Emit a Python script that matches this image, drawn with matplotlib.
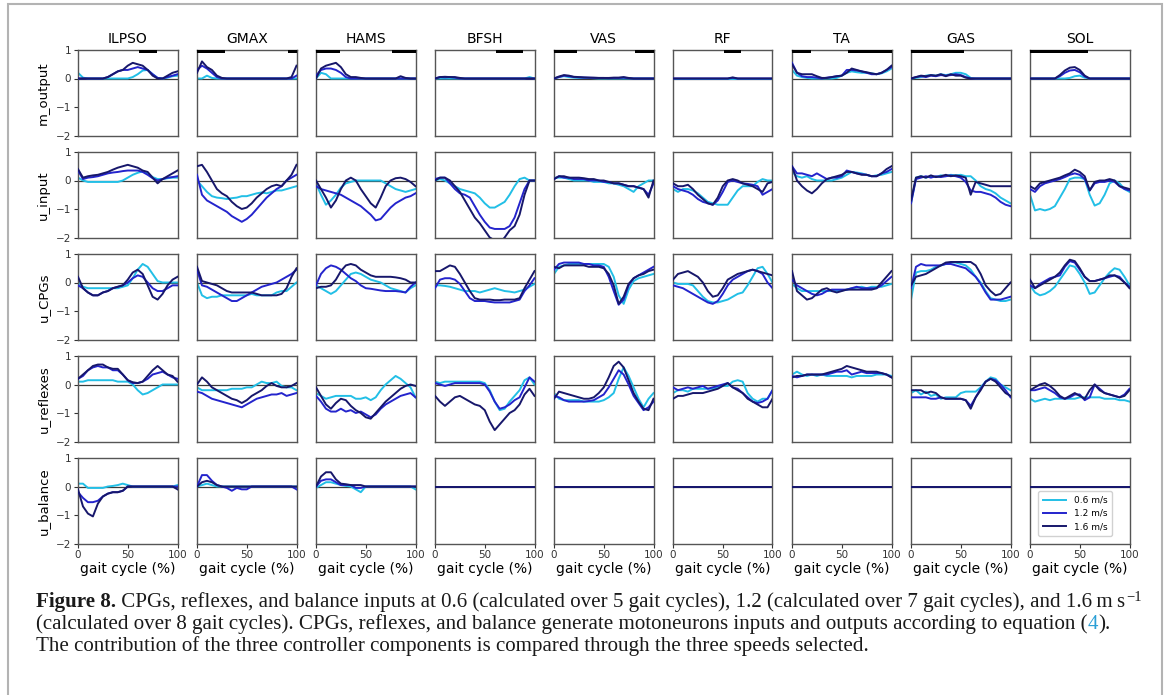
import matplotlib.pyplot as plt
import numpy as np
from matplotlib.patches import Rectangle
from matplotlib.text import Annotation

plt.rcParams['font.family'] = 'DejaVu Sans'

muscles = ['ILPSO', 'GMAX', 'HAMS', 'BFSH', 'VAS', 'RF', 'TA', 'GAS', 'SOL']
row_labels = ['m_output', 'u_input', 'u_CPGs', 'u_reflexes', 'u_balance']
speed_labels = ['0.6 m/s', '1.2 m/s', '1.6 m/s']
colors = ['#22bfe6', '#2424cc', '#17176b']

# black phase bars on top row (% of gait cycle)
phase_bars = [[(61, 79)], [(0, 28), (91, 100)], [(0, 24), (76, 100)], [(61, 88)],
              [(0, 23), (81, 100)], [(51, 68)], [(0, 19), (56, 100)], [(0, 53)], [(0, 58)]]

# every series is sampled evenly over 0..100 % of the gait cycle
m_output_06 = [
    [0.2, 0.03, 0, 0, 0, 0, 0, 0, 0, 0, 0, 0.05, 0.15, 0.28, 0.3, 0.15, 0.02, 0, 0.03, 0.08, 0.1],
    [0, 0, 0.1, 0.02, 0, 0, 0, 0, 0, 0, 0, 0, 0, 0, 0, 0, 0, 0, 0, 0, 0],
    [0, 0.2, 0.15, 0, 0, 0, 0, 0, 0, 0, 0, 0, 0, 0, 0, 0, 0, 0, 0, 0, 0],
    [0, 0, 0, 0, 0, 0, 0, 0, 0, 0, 0, 0, 0, 0, 0, 0, 0, 0, 0, 0.05, 0],
    [0, 0.05, 0.08, 0.05, 0.03, 0.02, 0.02, 0.02, 0.01, 0, 0, 0, 0, 0, 0, 0, 0, 0, 0, 0, 0],
    [0, 0],
    [0.3, 0.1, 0.05, 0.02, 0, 0, 0, 0, 0, 0.02, 0.1, 0.2, 0.25, 0.22, 0.2, 0.2, 0.18, 0.15, 0.18, 0.25, 0.35],
    [0, 0.02, 0.05, 0.1, 0.12, 0.1, 0.15, 0.12, 0.15, 0.2, 0.2, 0.15, 0.02, 0, 0, 0, 0, 0, 0, 0, 0],
    [0, 0, 0, 0, 0, 0, 0, 0, 0.02, 0.08, 0.1, 0.03, 0, 0, 0, 0, 0, 0, 0, 0, 0],
]
m_output_12 = [
    [0, 0, 0, 0, 0, 0, 0.05, 0.15, 0.25, 0.3, 0.3, 0.35, 0.4, 0.35, 0.3, 0.15, 0.02, 0, 0.05, 0.1, 0.15],
    [0.3, 0.45, 0.35, 0.2, 0.05, 0, 0, 0, 0, 0, 0, 0, 0, 0, 0, 0, 0, 0, 0, 0, 0.1],
    [0.1, 0.3, 0.35, 0.35, 0.3, 0.2, 0.05, 0, 0, 0, 0, 0, 0, 0, 0, 0, 0, 0, 0, 0, 0],
    [0, 0.05, 0.04, 0.05, 0.03, 0, 0, 0, 0, 0, 0, 0, 0, 0, 0, 0, 0, 0, 0, 0, 0],
    [0, 0.05, 0.1, 0.08, 0.05, 0.04, 0.03, 0.03, 0.02, 0.02, 0.02, 0.01, 0.02, 0.02, 0.03, 0.01, 0, 0, 0, 0, 0],
    [0, 0, 0, 0, 0, 0, 0, 0, 0, 0, 0, 0, 0.02, 0, 0, 0, 0, 0, 0, 0, 0],
    [0.55, 0.2, 0.08, 0.05, 0.05, 0.03, 0, 0.03, 0.05, 0.08, 0.1, 0.3, 0.3, 0.28, 0.25, 0.2, 0.15, 0.15, 0.2, 0.3, 0.4],
    [0, 0.05, 0.08, 0.05, 0.1, 0.08, 0.12, 0.1, 0.12, 0.15, 0.12, 0.05, 0, 0, 0, 0, 0, 0, 0, 0, 0],
    [0, 0, 0, 0, 0, 0, 0.08, 0.2, 0.28, 0.3, 0.22, 0.07, 0, 0, 0, 0, 0, 0, 0, 0, 0],
]
m_output_16 = [
    [0, 0, 0, 0, 0, 0, 0.05, 0.15, 0.25, 0.3, 0.45, 0.55, 0.5, 0.45, 0.3, 0.1, 0, 0, 0.1, 0.2, 0.25],
    [0.2, 0.6, 0.4, 0.3, 0.1, 0.02, 0, 0, 0, 0, 0, 0, 0, 0, 0, 0, 0, 0, 0, 0.05, 0.45],
    [0, 0.35, 0.45, 0.5, 0.55, 0.4, 0.15, 0.05, 0.05, 0.02, 0, 0, 0, 0, 0, 0, 0, 0.08, 0.02, 0, 0],
    [0, 0.05, 0.06, 0.05, 0.05, 0.02, 0, 0, 0, 0, 0, 0, 0, 0, 0, 0, 0, 0, 0, 0, 0],
    [0, 0.07, 0.12, 0.1, 0.06, 0.05, 0.04, 0.03, 0.03, 0.02, 0.02, 0.02, 0.03, 0.03, 0.05, 0.02, 0, 0, 0, 0, 0],
    [0, 0, 0, 0, 0, 0, 0, 0, 0, 0, 0, 0, 0.04, 0, 0, 0, 0, 0, 0, 0, 0],
    [0.5, 0.2, 0.15, 0.15, 0.15, 0.08, 0.02, 0.02, 0.05, 0.08, 0.1, 0.2, 0.35, 0.3, 0.25, 0.22, 0.18, 0.15, 0.2, 0.3, 0.45],
    [0, 0.05, 0.1, 0.08, 0.12, 0.1, 0.15, 0.08, 0.15, 0.1, 0.1, 0.03, 0, 0, 0, 0, 0, 0, 0, 0, 0],
    [0, 0, 0, 0, 0, 0, 0.12, 0.28, 0.38, 0.4, 0.3, 0.1, 0, 0, 0, 0, 0, 0, 0, 0, 0],
]

u_input_06 = [
    [0.1, 0.0, -0.05, -0.05, -0.05, -0.05, -0.05, -0.05, -0.05, 0.0, 0.1, 0.2, 0.27, 0.32, 0.25, 0.12, 0.05, 0.05, 0.08, 0.1, 0.1],
    [0.0, -0.2, -0.4, -0.55, -0.6, -0.62, -0.65, -0.62, -0.6, -0.55, -0.55, -0.5, -0.45, -0.42, -0.45, -0.4, -0.35, -0.35, -0.3, -0.25, -0.2],
    [-0.1, -0.5, -0.85, -0.7, -0.5, -0.25, -0.1, -0.05, 0.0, 0.0, 0.0, 0.0, 0.0, 0.0, -0.1, -0.2, -0.3, -0.35, -0.4, -0.35, -0.3],
    [0.0, 0.05, 0.0, -0.1, -0.2, -0.3, -0.35, -0.4, -0.45, -0.6, -0.8, -0.95, -0.95, -0.85, -0.75, -0.5, -0.2, 0.05, 0.1, 0.0, 0.0],
    [0.1, 0.1, 0.1, 0.05, 0.0, 0.0, 0.0, 0.0, -0.05, -0.05, -0.05, -0.1, -0.1, -0.15, -0.2, -0.3, -0.4, -0.2, -0.1, 0.0, 0.0],
    [-0.3, -0.4, -0.3, -0.3, -0.35, -0.45, -0.6, -0.75, -0.8, -0.85, -0.85, -0.85, -0.6, -0.35, -0.2, -0.2, -0.2, -0.05, 0.05, 0.0, 0.0],
    [0.3, 0.15, 0.1, 0.15, 0.05, 0.0, 0.0, 0.0, 0.0, 0.05, 0.1, 0.2, 0.3, 0.28, 0.25, 0.2, 0.15, 0.18, 0.2, 0.25, 0.3],
    [-0.8, 0.1, 0.15, 0.1, 0.15, 0.12, 0.18, 0.15, 0.2, 0.18, 0.2, 0.15, 0.15, 0.0, -0.2, -0.3, -0.35, -0.45, -0.6, -0.7, -0.8],
    [-0.5, -1.05, -1.0, -1.05, -1.0, -0.9, -0.6, -0.3, 0.05, 0.1, 0.1, 0.05, -0.5, -0.88, -0.8, -0.5, -0.1, 0.0, -0.1, -0.3, -0.4],
]
u_input_12 = [
    [0.35, 0.05, 0.1, 0.12, 0.15, 0.2, 0.25, 0.28, 0.3, 0.33, 0.35, 0.35, 0.35, 0.3, 0.2, 0.08, 0.0, 0.05, 0.1, 0.12, 0.15],
    [0.2, -0.5, -0.7, -0.8, -0.9, -1.0, -1.1, -1.25, -1.35, -1.45, -1.35, -1.2, -1.0, -0.8, -0.6, -0.45, -0.3, -0.2, 0.0, 0.1, 0.2],
    [-0.2, -0.3, -0.35, -0.4, -0.45, -0.5, -0.6, -0.7, -0.8, -0.9, -1.05, -1.2, -1.4, -1.35, -1.15, -0.95, -0.8, -0.7, -0.6, -0.55, -0.45],
    [0.05, 0.1, 0.1, -0.1, -0.3, -0.45, -0.5, -0.6, -0.9, -1.2, -1.45, -1.65, -1.7, -1.7, -1.7, -1.6, -1.3, -0.8, -0.3, 0.0, 0.0],
    [0.05, 0.15, 0.1, 0.1, 0.05, 0.05, 0.05, 0.0, 0.0, 0.0, -0.05, -0.05, -0.1, -0.1, -0.15, -0.2, -0.2, -0.25, -0.3, -0.5, -0.1],
    [-0.2, -0.3, -0.35, -0.4, -0.5, -0.65, -0.75, -0.8, -0.85, -0.7, -0.4, -0.05, 0.0, -0.05, -0.1, -0.12, -0.15, -0.2, -0.5, -0.4, -0.3],
    [0.5, 0.25, 0.25, 0.2, 0.15, 0.25, 0.15, 0.05, 0.1, 0.1, 0.15, 0.35, 0.3, 0.25, 0.22, 0.2, 0.15, 0.15, 0.25, 0.3, 0.4],
    [-0.8, 0.05, 0.1, 0.15, 0.1, 0.15, 0.12, 0.15, 0.18, 0.15, 0.1, -0.05, -0.35, -0.4, -0.4, -0.45, -0.5, -0.6, -0.75, -0.85, -0.9],
    [-0.3, -0.4, -0.2, -0.1, -0.05, 0.0, 0.05, 0.12, 0.2, 0.25, 0.2, 0.05, -0.35, -0.1, -0.05, -0.05, 0.0, -0.05, -0.2, -0.3, -0.35],
]
u_input_16 = [
    [0.4, 0.1, 0.15, 0.18, 0.2, 0.25, 0.3, 0.38, 0.45, 0.5, 0.55, 0.5, 0.45, 0.35, 0.3, 0.1, -0.1, 0.05, 0.15, 0.25, 0.35],
    [0.5, 0.55, 0.3, 0.0, -0.3, -0.45, -0.55, -0.75, -0.9, -1.0, -0.95, -0.8, -0.6, -0.45, -0.3, -0.2, -0.15, -0.2, 0.0, 0.2, 0.55],
    [0.0, -0.3, -0.6, -0.95, -0.7, -0.3, 0.0, 0.1, 0.0, -0.3, -0.55, -0.8, -0.95, -0.6, -0.2, 0.0, 0.08, 0.1, 0.05, -0.05, -0.2],
    [0.0, 0.1, 0.1, 0.0, -0.2, -0.4, -0.7, -1.0, -1.3, -1.5, -1.75, -2.0, -2.1, -2.2, -2.0, -1.75, -1.6, -1.2, -0.5, 0.0, 0.0],
    [0.05, 0.15, 0.15, 0.1, 0.1, 0.1, 0.08, 0.05, 0.05, 0.0, 0.0, -0.05, -0.1, -0.1, -0.15, -0.2, -0.2, -0.25, -0.3, -0.6, 0.0],
    [-0.1, -0.2, -0.2, -0.15, -0.3, -0.5, -0.65, -0.8, -0.85, -0.6, -0.2, 0.0, 0.05, 0.0, -0.1, -0.15, -0.2, -0.3, -0.4, -0.1, -0.05],
    [0.5, 0.0, -0.2, -0.35, -0.45, -0.3, -0.1, 0.05, 0.1, 0.15, 0.2, 0.3, 0.3, 0.25, 0.2, 0.2, 0.15, 0.15, 0.25, 0.4, 0.5],
    [-0.7, 0.1, 0.15, 0.1, 0.18, 0.12, 0.15, 0.2, 0.15, 0.18, 0.15, 0.1, -0.5, -0.05, -0.1, -0.15, -0.2, -0.2, -0.2, -0.2, -0.2],
    [-0.2, -0.3, -0.1, -0.05, 0.0, 0.05, 0.1, 0.18, 0.25, 0.38, 0.3, 0.15, -0.35, -0.05, 0.0, 0.0, 0.05, 0.0, -0.2, -0.25, -0.3],
]

u_cpgs_06 = [
    [0.0, -0.15, -0.2, -0.2, -0.2, -0.2, -0.2, -0.2, -0.2, -0.15, -0.1, 0.15, 0.45, 0.65, 0.55, 0.3, 0.05, 0.0, 0.0, 0.0, 0.0],
    [0.0, -0.45, -0.55, -0.5, -0.5, -0.45, -0.45, -0.45, -0.45, -0.45, -0.45, -0.4, -0.45, -0.45, -0.45, -0.45, -0.35, -0.3, -0.3, -0.15, 0.0],
    [-0.1, -0.2, -0.3, -0.4, -0.3, -0.1, 0.1, 0.3, 0.35, 0.3, 0.2, 0.1, 0.05, 0.0, -0.1, -0.2, -0.25, -0.3, -0.35, -0.2, -0.1],
    [-0.1, -0.1, -0.12, -0.15, -0.2, -0.25, -0.3, -0.3, -0.3, -0.35, -0.3, -0.25, -0.2, -0.25, -0.3, -0.32, -0.35, -0.3, -0.25, -0.15, -0.05],
    [0.3, 0.55, 0.6, 0.65, 0.65, 0.65, 0.65, 0.65, 0.65, 0.65, 0.65, 0.55, 0.2, -0.45, -0.75, -0.25, 0.05, 0.15, 0.2, 0.25, 0.3],
    [0.0, -0.05, -0.05, -0.05, -0.1, -0.3, -0.5, -0.65, -0.7, -0.7, -0.65, -0.6, -0.5, -0.4, -0.35, -0.1, 0.2, 0.5, 0.55, 0.3, 0.0],
    [-0.05, -0.2, -0.3, -0.3, -0.3, -0.3, -0.3, -0.3, -0.3, -0.3, -0.28, -0.25, -0.2, -0.18, -0.15, -0.2, -0.15, -0.15, -0.15, -0.1, -0.05],
    [-0.6, 0.35, 0.4, 0.4, 0.45, 0.55, 0.6, 0.65, 0.7, 0.7, 0.65, 0.6, 0.45, 0.2, 0.0, -0.3, -0.55, -0.6, -0.65, -0.65, -0.6],
    [-0.1, -0.35, -0.45, -0.4, -0.3, -0.15, 0.1, 0.35, 0.6, 0.55, 0.3, 0.0, -0.4, -0.35, -0.1, 0.15, 0.35, 0.5, 0.45, 0.2, -0.1],
]
u_cpgs_12 = [
    [-0.1, -0.2, -0.35, -0.45, -0.45, -0.35, -0.3, -0.2, -0.15, -0.1, 0.0, 0.15, 0.25, 0.2, 0.0, -0.2, -0.3, -0.3, -0.2, -0.1, -0.1],
    [0.45, -0.1, -0.15, -0.25, -0.35, -0.45, -0.55, -0.65, -0.65, -0.55, -0.45, -0.35, -0.25, -0.15, -0.1, -0.05, 0.0, 0.1, 0.2, 0.3, 0.45],
    [-0.1, 0.3, 0.5, 0.6, 0.55, 0.45, 0.3, 0.15, 0.05, -0.1, -0.2, -0.22, -0.25, -0.28, -0.3, -0.3, -0.3, -0.32, -0.35, -0.15, 0.0],
    [-0.2, 0.1, 0.15, 0.15, 0.1, -0.05, -0.3, -0.55, -0.65, -0.65, -0.65, -0.68, -0.7, -0.7, -0.7, -0.7, -0.65, -0.6, -0.3, -0.1, 0.15],
    [0.45, 0.65, 0.7, 0.7, 0.7, 0.7, 0.65, 0.65, 0.6, 0.6, 0.55, 0.2, -0.3, -0.78, -0.6, -0.1, 0.15, 0.25, 0.35, 0.45, 0.55],
    [-0.1, -0.15, -0.2, -0.3, -0.4, -0.5, -0.6, -0.7, -0.75, -0.65, -0.4, -0.1, 0.1, 0.2, 0.3, 0.4, 0.45, 0.4, 0.3, 0.0, -0.2],
    [0.1, -0.1, -0.2, -0.3, -0.4, -0.45, -0.4, -0.3, -0.25, -0.25, -0.25, -0.25, -0.2, -0.15, -0.2, -0.2, -0.2, -0.2, -0.1, 0.05, 0.2],
    [-0.2, 0.55, 0.65, 0.6, 0.6, 0.6, 0.6, 0.65, 0.65, 0.6, 0.55, 0.5, 0.35, 0.2, -0.05, -0.35, -0.6, -0.6, -0.6, -0.55, -0.5],
    [-0.1, -0.2, -0.05, 0.05, 0.15, 0.2, 0.25, 0.55, 0.75, 0.7, 0.45, 0.2, 0.05, 0.05, 0.1, 0.15, 0.2, 0.25, 0.2, 0.0, -0.15],
]
u_cpgs_16 = [
    [0.2, -0.2, -0.35, -0.45, -0.45, -0.35, -0.3, -0.2, -0.15, -0.1, 0.1, 0.35, 0.45, 0.3, -0.1, -0.5, -0.6, -0.4, -0.1, 0.1, 0.2],
    [0.55, 0.05, 0.0, -0.05, -0.1, -0.2, -0.3, -0.35, -0.35, -0.35, -0.35, -0.35, -0.4, -0.45, -0.45, -0.45, -0.45, -0.4, -0.2, 0.2, 0.5],
    [-0.2, -0.15, -0.15, -0.1, 0.1, 0.4, 0.6, 0.65, 0.6, 0.45, 0.35, 0.25, 0.2, 0.2, 0.2, 0.2, 0.18, 0.15, 0.1, 0.0, 0.0],
    [0.4, 0.4, 0.5, 0.6, 0.55, 0.3, 0.0, -0.3, -0.55, -0.6, -0.6, -0.6, -0.62, -0.62, -0.6, -0.6, -0.6, -0.55, -0.2, 0.1, 0.4],
    [0.55, 0.5, 0.6, 0.6, 0.6, 0.6, 0.6, 0.55, 0.55, 0.55, 0.5, 0.3, -0.1, -0.75, -0.5, -0.05, 0.15, 0.25, 0.3, 0.4, 0.45],
    [0.1, 0.3, 0.35, 0.4, 0.3, 0.2, 0.0, -0.3, -0.5, -0.45, -0.2, 0.1, 0.2, 0.3, 0.35, 0.4, 0.45, 0.4, 0.35, 0.3, 0.25],
    [0.4, -0.3, -0.45, -0.6, -0.55, -0.4, -0.25, -0.2, -0.3, -0.35, -0.3, -0.25, -0.25, -0.25, -0.25, -0.25, -0.25, -0.2, 0.0, 0.2, 0.4],
    [-0.1, 0.2, 0.25, 0.3, 0.4, 0.5, 0.6, 0.7, 0.72, 0.72, 0.72, 0.72, 0.72, 0.6, 0.3, -0.1, -0.3, -0.45, -0.4, -0.2, 0.0],
    [0.1, -0.2, -0.1, 0.0, 0.1, 0.2, 0.35, 0.6, 0.8, 0.75, 0.5, 0.2, 0.05, 0.05, 0.1, 0.15, 0.25, 0.25, 0.15, 0.0, -0.2],
]

u_reflexes_06 = [
    [0.1, 0.1, 0.15, 0.15, 0.15, 0.15, 0.15, 0.15, 0.1, 0.1, 0.1, 0.0, -0.2, -0.35, -0.3, -0.2, -0.1, 0.0, 0.0, 0.0, 0.0],
    [-0.1, -0.2, -0.2, -0.2, -0.2, -0.2, -0.2, -0.15, -0.15, -0.15, -0.1, -0.1, 0.0, 0.1, 0.05, 0.05, 0.1, -0.05, -0.1, -0.1, -0.2],
    [-0.3, -0.4, -0.5, -0.45, -0.4, -0.4, -0.4, -0.4, -0.5, -0.5, -0.45, -0.55, -0.45, -0.2, 0.0, 0.15, 0.3, 0.2, 0.05, -0.1, -0.45],
    [0.1, 0.05, 0.1, 0.1, 0.1, 0.1, 0.1, 0.1, 0.1, 0.1, 0.05, -0.2, -0.6, -0.9, -0.85, -0.6, -0.4, -0.2, 0.15, 0.25, 0.0],
    [-0.3, -0.5, -0.55, -0.55, -0.55, -0.55, -0.6, -0.6, -0.6, -0.6, -0.55, -0.45, -0.3, 0.2, 0.6, 0.3, -0.1, -0.5, -0.8, -0.5, -0.3],
    [-0.3, -0.2, -0.2, -0.25, -0.15, -0.15, -0.15, -0.15, -0.15, -0.1, -0.05, -0.05, 0.1, 0.15, 0.1, -0.3, -0.5, -0.6, -0.5, -0.5, -0.2],
    [0.35, 0.45, 0.35, 0.3, 0.35, 0.3, 0.35, 0.3, 0.3, 0.3, 0.3, 0.3, 0.25, 0.3, 0.3, 0.3, 0.3, 0.35, 0.35, 0.35, 0.3],
    [-0.3, -0.2, -0.35, -0.25, -0.4, -0.35, -0.5, -0.45, -0.45, -0.45, -0.3, -0.25, -0.25, -0.25, -0.1, 0.1, 0.25, 0.2, 0.0, -0.1, -0.2],
    [-0.5, -0.6, -0.55, -0.5, -0.55, -0.5, -0.5, -0.5, -0.5, -0.5, -0.45, -0.45, -0.45, -0.45, -0.45, -0.5, -0.5, -0.5, -0.55, -0.55, -0.6],
]
u_reflexes_12 = [
    [0.2, 0.3, 0.5, 0.6, 0.65, 0.6, 0.6, 0.5, 0.5, 0.35, 0.15, 0.05, 0.05, 0.1, 0.2, 0.35, 0.4, 0.45, 0.35, 0.25, 0.2],
    [-0.25, -0.3, -0.4, -0.5, -0.55, -0.6, -0.65, -0.7, -0.75, -0.8, -0.7, -0.6, -0.5, -0.45, -0.4, -0.35, -0.35, -0.3, -0.4, -0.35, -0.3],
    [-0.4, -0.6, -0.85, -0.95, -0.95, -0.85, -0.95, -0.9, -1.0, -0.95, -1.05, -1.15, -1.05, -0.85, -0.7, -0.6, -0.5, -0.4, -0.35, -0.3, -0.45],
    [0.05, 0.0, -0.05, 0.0, 0.05, 0.05, 0.05, 0.05, 0.05, 0.05, 0.0, -0.25, -0.6, -0.85, -0.8, -0.7, -0.55, -0.45, -0.1, 0.25, 0.1],
    [-0.4, -0.45, -0.55, -0.6, -0.6, -0.6, -0.6, -0.58, -0.55, -0.45, -0.35, -0.1, 0.2, 0.5, 0.35, 0.0, -0.4, -0.65, -0.9, -0.8, -0.6],
    [-0.1, -0.2, -0.15, -0.1, -0.15, -0.1, -0.05, -0.15, -0.1, -0.05, 0.0, 0.05, -0.1, -0.15, -0.3, -0.45, -0.6, -0.65, -0.6, -0.5, -0.2],
    [0.3, 0.25, 0.3, 0.35, 0.35, 0.35, 0.35, 0.35, 0.4, 0.45, 0.45, 0.5, 0.35, 0.4, 0.45, 0.4, 0.4, 0.4, 0.4, 0.35, 0.25],
    [-0.45, -0.45, -0.45, -0.45, -0.5, -0.5, -0.45, -0.5, -0.5, -0.5, -0.5, -0.55, -0.75, -0.45, -0.15, 0.1, 0.2, 0.15, 0.0, -0.2, -0.45],
    [-0.2, -0.2, -0.15, -0.1, -0.2, -0.3, -0.45, -0.5, -0.45, -0.35, -0.35, -0.55, -0.45, 0.0, -0.15, -0.3, -0.35, -0.4, -0.45, -0.35, -0.15],
]
u_reflexes_16 = [
    [0.2, 0.35, 0.5, 0.65, 0.7, 0.7, 0.6, 0.55, 0.55, 0.35, 0.15, 0.08, 0.05, 0.1, 0.3, 0.5, 0.65, 0.5, 0.35, 0.3, 0.1],
    [0.0, 0.25, 0.1, -0.1, -0.2, -0.3, -0.4, -0.5, -0.55, -0.65, -0.55, -0.4, -0.3, -0.2, -0.05, 0.05, -0.05, -0.1, -0.1, -0.05, 0.05],
    [-0.1, -0.4, -0.7, -0.85, -0.65, -0.5, -0.55, -0.75, -0.9, -1.0, -1.15, -1.2, -1.0, -0.8, -0.6, -0.45, -0.3, -0.15, -0.05, 0.0, -0.05],
    [-0.4, -0.6, -0.75, -0.6, -0.45, -0.4, -0.5, -0.6, -0.7, -0.75, -0.9, -1.3, -1.6, -1.4, -1.2, -1.0, -0.9, -0.7, -0.35, -0.15, -0.4],
    [-0.5, -0.25, -0.3, -0.35, -0.4, -0.45, -0.5, -0.5, -0.45, -0.3, -0.1, 0.25, 0.65, 0.8, 0.6, 0.15, -0.3, -0.6, -0.85, -0.9, -0.5],
    [-0.5, -0.4, -0.4, -0.35, -0.3, -0.3, -0.3, -0.25, -0.2, -0.15, -0.05, 0.05, -0.1, -0.2, -0.3, -0.5, -0.6, -0.7, -0.8, -0.8, -0.5],
    [0.25, 0.3, 0.3, 0.35, 0.35, 0.35, 0.35, 0.4, 0.45, 0.5, 0.55, 0.65, 0.6, 0.55, 0.5, 0.45, 0.45, 0.45, 0.4, 0.35, 0.25],
    [-0.2, -0.2, -0.2, -0.3, -0.25, -0.3, -0.45, -0.5, -0.5, -0.5, -0.5, -0.55, -0.85, -0.45, -0.2, 0.1, 0.2, 0.1, -0.1, -0.3, -0.4],
    [-0.2, -0.1, 0.0, 0.05, -0.05, -0.2, -0.4, -0.5, -0.4, -0.3, -0.4, -0.5, -0.2, 0.0, -0.2, -0.3, -0.35, -0.4, -0.45, -0.4, -0.2],
]

u_balance_06 = [
    [0.1, 0.1, -0.05, -0.05, -0.05, -0.05, 0.0, 0.02, 0.05, 0.1, 0.05, 0, 0, 0, 0, 0, 0, 0, 0, 0, 0.05],
    [0.0, 0.05, 0.1, 0.05, 0, 0, 0, 0, 0, 0, 0, 0, 0, 0, 0, 0, 0, 0, 0, 0, 0],
    [-0.05, 0.05, 0.15, 0.15, 0.1, 0.05, 0.02, 0.0, -0.1, -0.2, 0, 0, 0, 0, 0, 0, 0, 0, 0, 0, -0.1],
    [0, 0], [0, 0], [0, 0], [0, 0], [0, 0], [0, 0],
]
u_balance_12 = [
    [-0.2, -0.4, -0.55, -0.55, -0.5, -0.35, -0.25, -0.2, -0.2, -0.15, 0.0, 0, 0, 0, 0, 0, 0, 0, 0, 0, 0],
    [0.0, 0.4, 0.4, 0.2, 0.05, 0.0, -0.05, -0.15, -0.05, -0.1, -0.1, 0, 0, 0, 0, 0, 0, 0, 0, 0, -0.1],
    [0.0, 0.2, 0.25, 0.25, 0.15, 0.05, 0.05, 0.05, -0.05, -0.05, 0.0, 0, 0, 0, 0, 0, 0, 0, 0, 0, 0],
    [0, 0], [0, 0], [0, 0], [0, 0], [0, 0], [0, 0],
]
u_balance_16 = [
    [-0.1, -0.7, -0.95, -1.05, -0.6, -0.35, -0.25, -0.2, -0.2, -0.15, 0.0, 0, 0, 0, 0, 0, 0, 0, 0, 0, -0.1],
    [0.0, 0.15, 0.2, 0.15, 0.05, 0.0, 0, 0, 0, 0, 0, 0, 0, 0, 0, 0, 0, 0, 0, 0, 0],
    [0.0, 0.35, 0.5, 0.5, 0.25, 0.1, 0.08, 0.05, 0.05, 0.05, 0.0, 0, 0, 0, 0, 0, 0, 0, 0, 0, 0],
    [0, 0], [0, 0], [0, 0], [0, 0], [0, 0], [0, 0],
]

data = [
    [m_output_06, m_output_12, m_output_16],
    [u_input_06, u_input_12, u_input_16],
    [u_cpgs_06, u_cpgs_12, u_cpgs_16],
    [u_reflexes_06, u_reflexes_12, u_reflexes_16],
    [u_balance_06, u_balance_12, u_balance_16],
]

W, H = 1167, 695
fig = plt.figure(figsize=(W / 100, H / 100), dpi=100)

col_left, col_step, ax_w = 78, 119.0, 99.5
row_top, row_step, ax_h = 50, 102, 85.5

for r in range(5):
    for c in range(9):
        x0 = col_left + c * col_step
        y0 = row_top + r * row_step
        ax = fig.add_axes([x0 / W, 1 - (y0 + ax_h) / H, ax_w / W, ax_h / H])
        ax.axhline(0, color='#3a3a3a', lw=0.9, zorder=1)
        for s in range(3):
            y = data[r][s][c]
            x = np.linspace(0, 100, len(y))
            ax.plot(x, y, color=colors[s], lw=1.4, label=speed_labels[s], zorder=2 + s)
        if r == 0:
            for a, b in phase_bars[c]:
                ax.axhspan(0.88, 1.0, xmin=a / 100, xmax=b / 100, color='black', lw=0, zorder=5)
            ax.set_title(muscles[c], fontsize=10, pad=5)
        ax.set_xlim(0, 100)
        ax.set_ylim(-2, 1)
        for sp in ax.spines.values():
            sp.set_color('#555555')
            sp.set_linewidth(1.0)
        if c == 0:
            ax.set_yticks([-2, -1, 0, 1])
            ax.tick_params(axis='y', labelsize=7.5, length=3, width=0.8, pad=2, colors='#333333')
            ax.set_ylabel(row_labels[r], fontsize=9.5, labelpad=4)
        else:
            ax.set_yticks([])
        if r == 4:
            ax.set_xticks([0, 50, 100])
            ax.tick_params(axis='x', labelsize=7.5, length=3, width=0.8, pad=2, colors='#333333')
            ax.set_xlabel('gait cycle (%)', fontsize=10, labelpad=1)
        else:
            ax.set_xticks([])
        if r == 4 and c == 8:
            ax.legend(loc='lower left', bbox_to_anchor=(0.04, 0.04), fontsize=6.5,
                      handlelength=2.6, labelspacing=0.45, borderpad=0.5,
                      framealpha=0.9, edgecolor='#cccccc', fancybox=True)

# caption below the panels
cap = dict(family='Liberation Serif', size=15.1, color='#1a1a1a')


def add_after(prev, s, **kw):
    a = Annotation(s, xy=(1, 0), xycoords=prev, va='bottom', ha='left', **kw)
    fig.add_artist(a)
    return a


t = fig.text(36 / W, 1 - 607 / H, 'Figure 8.', weight='bold', va='baseline', **cap)
t = add_after(t, ' CPGs, reflexes, and balance inputs at 0.6 (calculated over 5 gait cycles), '
                 '1.2 (calculated over 7 gait cycles), and 1.6\u2009m\u2009s', **cap)
fig.add_artist(Annotation('\u22121', xy=(1, 1), xycoords=t, va='top', ha='left',
                          xytext=(0.5, 1), textcoords='offset points',
                          family='Liberation Serif', size=10.5, color='#1a1a1a'))
t = fig.text(36 / W, 1 - 629 / H, '(calculated over 8 gait cycles). CPGs, reflexes, and balance '
             'generate motoneurons inputs and outputs according to equation (', va='baseline', **cap)
t = add_after(t, '4', family='Liberation Serif', size=15.1, color='#2a9fd6')
t = add_after(t, ').', **cap)
fig.text(36 / W, 1 - 651 / H, 'The contribution of the three controller components is compared '
         'through the three speeds selected.', va='baseline', **cap)

# light frame around the whole figure
fig.add_artist(Rectangle((8 / W, -0.05), (1162 - 8) / W, 1 - 4 / H + 0.05,
                         transform=fig.transFigure, fill=False, ec='#b3b3b3', lw=1.5))

fig.savefig('out.png', dpi=100)
